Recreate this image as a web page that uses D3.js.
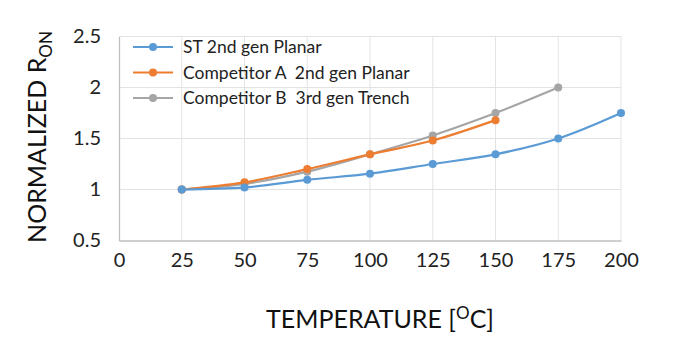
<!DOCTYPE html>
<html><head><meta charset="utf-8">
<script src="https://cdn.jsdelivr.net/npm/d3@7"></script>
<style>body{margin:0;background:#fff}svg{display:block}</style>
</head><body>
<svg id="c" width="680" height="354"></svg>
<script>
const temps = [25, 50, 75, 100, 125, 150, 175, 200];
const stValues = [1.0, 1.02, 1.095, 1.155, 1.25, 1.345, 1.5, 1.75];
const compAValues = [1.0, 1.07, 1.2, 1.345, 1.48, 1.68];
const compBValues = [1.0, 1.055, 1.175, 1.345, 1.53, 1.75, 2.0];
const seriesNames = ["ST 2nd gen Planar", "Competitor A  2nd gen Planar", "Competitor B  3rd gen Trench"];
const seriesColors = ["#5b9bd5", "#ed7d31", "#a5a5a5"];
const xTicks = [0, 25, 50, 75, 100, 125, 150, 175, 200];
const yTicks = [0.5, 1, 1.5, 2, 2.5];

const series = [stValues, compAValues, compBValues].map((vals, i) => ({
  name: seriesNames[i], color: seriesColors[i],
  pts: vals.map((v, j) => [temps[j], v])
}));

const svg = d3.select("#c");
const font = "Lato, 'Open Sans', sans-serif";
const x = d3.scaleLinear().domain([0, 200]).range([119, 621]);
const y = d3.scaleLinear().domain([0.5, 2.5]).range([240.5, 36.5]);

// gridlines
const g = svg.append("g");
g.selectAll("line.v").data(xTicks.filter(d => d > 0)).join("line")
  .attr("x1", d => x(d)).attr("x2", d => x(d)).attr("y1", y(0.5)).attr("y2", y(2.5))
  .attr("stroke", "#e3e3e3").attr("stroke-width", 1);
g.selectAll("line.h").data(yTicks.filter(d => d > 0.5)).join("line")
  .attr("x1", x(0)).attr("x2", x(200)).attr("y1", d => y(d)).attr("y2", d => y(d))
  .attr("stroke", "#e3e3e3").attr("stroke-width", 1);

// axes
const xAxis = d3.axisBottom(x).tickValues(xTicks).tickSize(0).tickPadding(12);
const yAxis = d3.axisLeft(y).tickValues(yTicks).tickSize(0).tickPadding(18).tickFormat(d3.format("~g"));
const ax = svg.append("g").attr("transform", `translate(0,${y(0.5)})`).call(xAxis);
const ay = svg.append("g").attr("transform", `translate(${x(0)},0)`).call(yAxis);
[ax, ay].forEach(a => {
  a.select(".domain").attr("stroke", "#bfbfbf").attr("stroke-width", 1.3);
  a.selectAll("text").attr("font-family", font).attr("font-size", 20).attr("fill", "#222");
});

// lines
const line = d3.line().x(d => x(d[0])).y(d => y(d[1])).curve(d3.curveCatmullRom.alpha(0.5));
series.slice().reverse().forEach(s => {
  svg.append("path").attr("d", line(s.pts)).attr("fill", "none")
    .attr("stroke", s.color).attr("stroke-width", 2.2);
  svg.selectAll(null).data(s.pts).join("circle")
    .attr("cx", d => x(d[0])).attr("cy", d => y(d[1])).attr("r", 4).attr("fill", s.color);
});

// legend
const lg = svg.append("g");
series.forEach((s, i) => {
  const yy = 47 + i * 25.5;
  lg.append("line").attr("x1", 133).attr("x2", 173).attr("y1", yy).attr("y2", yy)
    .attr("stroke", s.color).attr("stroke-width", 2.2);
  lg.append("circle").attr("cx", 153).attr("cy", yy).attr("r", 4).attr("fill", s.color);
  lg.append("text").attr("x", 183).attr("y", yy).attr("dy", "0.35em")
    .style("white-space", "pre").attr("xml:space", "preserve")
    .attr("font-family", font).attr("font-size", 17.5).attr("fill", "#222").text(s.name);
});

// axis titles
const yt = svg.append("text").attr("transform", "translate(46,137) rotate(-90)")
  .attr("text-anchor", "middle").attr("font-family", font).attr("font-size", 25).attr("fill", "#111");
yt.append("tspan").text("NORMALIZED R");
yt.append("tspan").attr("font-size", 17).attr("dy", 6).text("ON");

const xt = svg.append("text").attr("x", 380).attr("y", 328)
  .attr("text-anchor", "middle").attr("font-family", font).attr("font-size", 25).attr("fill", "#111");
xt.append("tspan").text("TEMPERATURE [");
xt.append("tspan").attr("font-size", 17).attr("dy", -9).text("O");
xt.append("tspan").attr("dy", 9).text("C]");
</script>
</body></html>
